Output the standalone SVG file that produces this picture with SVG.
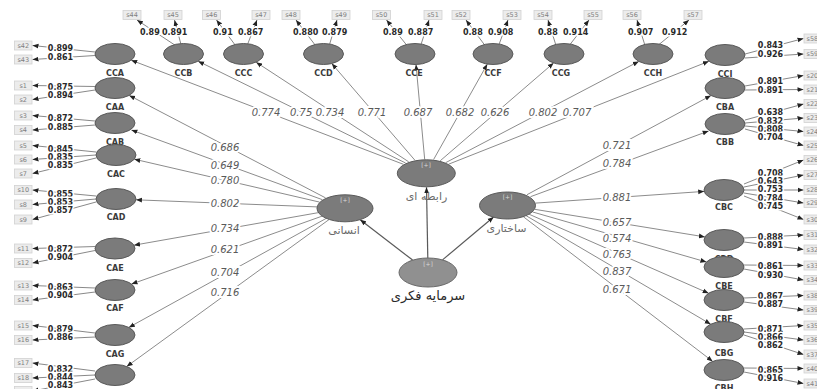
<svg xmlns="http://www.w3.org/2000/svg" width="817" height="389" viewBox="0 0 817 389">
<style>
.bg{fill:#fff}
.lv{fill:#7b7b7b;stroke:#5a5a5a;stroke-width:1}
.hv{fill:#7b7b7b;stroke:#5a5a5a;stroke-width:1}
.ic{fill:#909090;stroke:#6a6a6a;stroke-width:1}
.ln{stroke:#8c8c8c;stroke-width:1;fill:none;marker-end:url(#ah)}
.sp{stroke:#5a5a5a;stroke-width:1.2;fill:none;marker-end:url(#ah)}
.il{stroke:#6a6a6a;stroke-width:0.8;fill:none;marker-end:url(#ah)}
.bx{fill:#ececec;stroke:#d2d2d2;stroke-width:0.8}
.bt{font-family:"DejaVu Sans",sans-serif;font-size:6.5px;fill:#808080}
.btm{font-family:"DejaVu Sans",sans-serif;font-size:6.5px;fill:#808080;text-anchor:middle}
.cn{font-family:"DejaVu Sans",sans-serif;font-size:8px;font-weight:bold;fill:#3a3a3a;text-anchor:middle}
.vl{font-family:"DejaVu Sans",sans-serif;font-size:8px;font-weight:bold;fill:#2a2a2a;text-anchor:middle;paint-order:stroke;stroke:#fff;stroke-width:3px}
.vs{font-family:"DejaVu Sans",sans-serif;font-size:8px;font-weight:bold;fill:#2a2a2a;paint-order:stroke;stroke:#fff;stroke-width:3px}
.pc{font-family:"DejaVu Sans",sans-serif;font-size:10px;font-style:italic;fill:#5a5a5a;text-anchor:middle;paint-order:stroke;stroke:#fff;stroke-width:4px}
.pcs{font-family:"DejaVu Sans",sans-serif;font-size:10px;font-style:italic;fill:#5a5a5a;paint-order:stroke;stroke:#fff;stroke-width:4px}
.pl{font-family:"DejaVu Sans",sans-serif;font-size:6px;fill:#d8d8d8;text-anchor:middle}
.fa{font-family:"DejaVu Sans","Noto Sans",sans-serif;font-size:11px;fill:#6a6a6a;text-anchor:middle}
.fm{font-family:"DejaVu Sans","Noto Sans",sans-serif;font-size:13px;fill:#2a2a2a;text-anchor:middle}
</style>
<defs>
<marker id="ah" viewBox="0 0 10 10" refX="10" refY="5" markerWidth="6" markerHeight="6" markerUnits="userSpaceOnUse" orient="auto"><path d="M0,1 L10,5 L0,9 z" fill="#222"/></marker>
</defs>
<rect class="bg" x="0" y="0" width="817" height="389"/>

<g id="connectors">
<line class="sp" x1="412.6" y1="260.1" x2="360.2" y2="219.7"/>
<line class="sp" x1="427.8" y1="258" x2="426.5" y2="187.3"/>
<line class="sp" x1="442.5" y1="259.9" x2="493.6" y2="217"/>
<line class="ln" x1="325.6" y1="197.9" x2="129.2" y2="95.4"/>
<line class="ln" x1="322.4" y1="199.7" x2="131.4" y2="130"/>
<line class="ln" x1="319.6" y1="202.1" x2="134.3" y2="159.2"/>
<line class="ln" x1="317.1" y1="206.9" x2="135.9" y2="199.8"/>
<line class="ln" x1="318.6" y1="212.6" x2="134" y2="245.2"/>
<line class="ln" x1="322.2" y1="216.1" x2="131.5" y2="284.1"/>
<line class="ln" x1="326.2" y1="218.4" x2="128.8" y2="327.4"/>
<line class="ln" x1="329.1" y1="219.5" x2="126.7" y2="366.5"/>
<line class="ln" x1="403.4" y1="164.3" x2="131.2" y2="60.2"/>
<line class="ln" x1="405.6" y1="163" x2="198.1" y2="61.2"/>
<line class="ln" x1="408.7" y1="161.8" x2="256.1" y2="62.2"/>
<line class="ln" x1="414.8" y1="160.1" x2="331.8" y2="63.6"/>
<line class="ln" x1="424.7" y1="159.5" x2="416" y2="64.5"/>
<line class="ln" x1="433.6" y1="159.5" x2="487.3" y2="64.1"/>
<line class="ln" x1="440.2" y1="160.8" x2="553.6" y2="63"/>
<line class="ln" x1="445.6" y1="162.7" x2="638.8" y2="61.4"/>
<line class="ln" x1="448.6" y1="164.2" x2="708.9" y2="61.3"/>
<line class="ln" x1="527" y1="194.7" x2="711" y2="95.5"/>
<line class="ln" x1="530.5" y1="196.7" x2="708.6" y2="131"/>
<line class="ln" x1="535.7" y1="203.1" x2="704.2" y2="191.4"/>
<line class="ln" x1="534.6" y1="209.3" x2="704.9" y2="236.9"/>
<line class="ln" x1="532.4" y1="211.9" x2="706.4" y2="262"/>
<line class="ln" x1="529" y1="214.2" x2="708.7" y2="293.3"/>
<line class="ln" x1="526.1" y1="215.7" x2="710.7" y2="324.2"/>
<line class="ln" x1="523.3" y1="216.7" x2="712.7" y2="361.4"/>

<line class="il" x1="95" y1="52" x2="32.5" y2="45.5"/>
<line class="il" x1="95" y1="55.5" x2="32.5" y2="59.5"/>
<line class="il" x1="95" y1="86.5" x2="32.5" y2="85.5"/>
<line class="il" x1="95" y1="90" x2="32.5" y2="99.5"/>
<line class="il" x1="95" y1="121" x2="32.5" y2="115.5"/>
<line class="il" x1="95" y1="125" x2="32.5" y2="130"/>
<line class="il" x1="96" y1="152" x2="32.5" y2="145.5"/>
<line class="il" x1="96" y1="155" x2="32.5" y2="159.5"/>
<line class="il" x1="96" y1="158" x2="32.5" y2="173.5"/>
<line class="il" x1="96" y1="196" x2="32.5" y2="190"/>
<line class="il" x1="96" y1="199" x2="32.5" y2="204.5"/>
<line class="il" x1="96" y1="202" x2="32.5" y2="219.5"/>
<line class="il" x1="95" y1="246.5" x2="32.5" y2="248.5"/>
<line class="il" x1="95" y1="250.5" x2="32.5" y2="263"/>
<line class="il" x1="95" y1="288" x2="32.5" y2="285.5"/>
<line class="il" x1="95" y1="292" x2="32.5" y2="300"/>
<line class="il" x1="95" y1="333" x2="32.5" y2="325.5"/>
<line class="il" x1="95" y1="337" x2="32.5" y2="340"/>
<line class="il" x1="95" y1="371" x2="32.5" y2="363"/>
<line class="il" x1="95" y1="375" x2="32.5" y2="378"/>
<line class="il" x1="95" y1="379" x2="32.5" y2="391"/>
<line class="il" x1="175.5" y1="45.5" x2="137" y2="20"/>
<line class="il" x1="181" y1="44.5" x2="174.5" y2="20"/>
<line class="il" x1="235.5" y1="45.5" x2="216.5" y2="20"/>
<line class="il" x1="247.5" y1="44.5" x2="257" y2="20"/>
<line class="il" x1="315.5" y1="45.5" x2="296" y2="20"/>
<line class="il" x1="329.5" y1="44.5" x2="337" y2="20"/>
<line class="il" x1="407" y1="45.5" x2="386.5" y2="20"/>
<line class="il" x1="421" y1="44.5" x2="429" y2="20"/>
<line class="il" x1="485" y1="45.5" x2="466" y2="20"/>
<line class="il" x1="499" y1="44.5" x2="508" y2="20"/>
<line class="il" x1="556" y1="45.5" x2="548" y2="20"/>
<line class="il" x1="570" y1="44.5" x2="589" y2="20"/>
<line class="il" x1="645" y1="45.5" x2="637" y2="20"/>
<line class="il" x1="659" y1="44.5" x2="689" y2="20"/>
<line class="il" x1="745" y1="54" x2="803.5" y2="38.5"/>
<line class="il" x1="745" y1="58" x2="803.5" y2="54"/>
<line class="il" x1="745" y1="86" x2="803.5" y2="75.5"/>
<line class="il" x1="745" y1="90" x2="803.5" y2="89.5"/>
<line class="il" x1="745" y1="120" x2="803.5" y2="104"/>
<line class="il" x1="745" y1="123" x2="803.5" y2="118"/>
<line class="il" x1="745" y1="126" x2="803.5" y2="131.5"/>
<line class="il" x1="745" y1="129" x2="803.5" y2="145.5"/>
<line class="il" x1="744" y1="184" x2="803.5" y2="160"/>
<line class="il" x1="744" y1="187" x2="803.5" y2="175"/>
<line class="il" x1="744" y1="190" x2="803.5" y2="190"/>
<line class="il" x1="744" y1="193" x2="803.5" y2="203"/>
<line class="il" x1="744" y1="196" x2="803.5" y2="219.5"/>
<line class="il" x1="744" y1="238" x2="803.5" y2="235"/>
<line class="il" x1="744" y1="242" x2="803.5" y2="249.5"/>
<line class="il" x1="744" y1="265" x2="803.5" y2="265.5"/>
<line class="il" x1="744" y1="269" x2="803.5" y2="280"/>
<line class="il" x1="744" y1="298" x2="803.5" y2="295.5"/>
<line class="il" x1="744" y1="302" x2="803.5" y2="310"/>
<line class="il" x1="744" y1="329" x2="803.5" y2="325.5"/>
<line class="il" x1="744" y1="332" x2="803.5" y2="340"/>
<line class="il" x1="744" y1="335" x2="803.5" y2="354.5"/>
<line class="il" x1="744" y1="368" x2="803.5" y2="368.5"/>
<line class="il" x1="744" y1="372" x2="803.5" y2="383.5"/>

<text class="pc" x="225" y="150.5">0.686</text>
<text class="pc" x="225" y="168.5">0.649</text>
<text class="pc" x="225" y="183.5">0.780</text>
<text class="pc" x="225" y="206.5">0.802</text>
<text class="pc" x="225" y="231.5">0.734</text>
<text class="pc" x="225" y="252.5">0.621</text>
<text class="pc" x="225" y="275.5">0.704</text>
<text class="pc" x="225" y="295.5">0.716</text>
<text class="pc" x="266" y="115.5">0.774</text>
<text class="pcs" x="290" y="115.5">0.75</text>
<text class="pc" x="330" y="115.5">0.734</text>
<text class="pc" x="372" y="115.5">0.771</text>
<text class="pc" x="418" y="115.5">0.687</text>
<text class="pc" x="460" y="115.5">0.682</text>
<text class="pc" x="495" y="115.5">0.626</text>
<text class="pc" x="543" y="115.5">0.802</text>
<text class="pc" x="577" y="115.5">0.707</text>
<text class="pc" x="617" y="148.5">0.721</text>
<text class="pc" x="617" y="166.5">0.784</text>
<text class="pc" x="617" y="200.5">0.881</text>
<text class="pc" x="617" y="225.5">0.657</text>
<text class="pc" x="617" y="241.5">0.574</text>
<text class="pc" x="617" y="257.5">0.763</text>
<text class="pc" x="617" y="275">0.837</text>
<text class="pc" x="617" y="292.5">0.671</text>

<text class="vl" x="60.5" y="51">0.899</text>
<text class="vl" x="60.5" y="60">0.861</text>
<text class="vl" x="60.5" y="89.7">0.875</text>
<text class="vl" x="60.5" y="97.7">0.894</text>
<text class="vl" x="60.5" y="121">0.872</text>
<text class="vl" x="60.5" y="129.7">0.885</text>
<text class="vl" x="60.5" y="152">0.845</text>
<text class="vl" x="60.5" y="160">0.835</text>
<text class="vl" x="60.5" y="168">0.835</text>
<text class="vl" x="60.5" y="196.7">0.855</text>
<text class="vl" x="60.5" y="204.7">0.853</text>
<text class="vl" x="60.5" y="212.7">0.857</text>
<text class="vl" x="60.5" y="251.7">0.872</text>
<text class="vl" x="60.5" y="259.7">0.904</text>
<text class="vl" x="60.5" y="289.5">0.863</text>
<text class="vl" x="60.5" y="297.7">0.904</text>
<text class="vl" x="60.5" y="332">0.879</text>
<text class="vl" x="60.5" y="340.2">0.886</text>
<text class="vl" x="60.5" y="371.7">0.832</text>
<text class="vl" x="60.5" y="380">0.844</text>
<text class="vl" x="60.5" y="388.3">0.843</text>
<text class="vs" x="140" y="35">0.89</text>
<text class="vs" x="162" y="35">0.891</text>
<text class="vs" x="213" y="35">0.91</text>
<text class="vs" x="238" y="35">0.867</text>
<text class="vs" x="293" y="35">0.880</text>
<text class="vs" x="322" y="35">0.879</text>
<text class="vs" x="383" y="35">0.89</text>
<text class="vs" x="408" y="35">0.887</text>
<text class="vs" x="463" y="35">0.88</text>
<text class="vs" x="488" y="35">0.908</text>
<text class="vs" x="538" y="35">0.88</text>
<text class="vs" x="563" y="35">0.914</text>
<text class="vs" x="628" y="35">0.907</text>
<text class="vs" x="662" y="35">0.912</text>
<text class="vl" x="770.5" y="48.3">0.843</text>
<text class="vl" x="770.5" y="56.5">0.926</text>
<text class="vl" x="770.5" y="84.3">0.891</text>
<text class="vl" x="770.5" y="92.5">0.891</text>
<text class="vl" x="770.5" y="115.3">0.638</text>
<text class="vl" x="770.5" y="123.5">0.832</text>
<text class="vl" x="770.5" y="131.7">0.808</text>
<text class="vl" x="770.5" y="139.9">0.704</text>
<text class="vl" x="770.5" y="176">0.708</text>
<text class="vl" x="770.5" y="184.2">0.643</text>
<text class="vl" x="770.5" y="192.4">0.753</text>
<text class="vl" x="770.5" y="200.6">0.784</text>
<text class="vl" x="770.5" y="208.8">0.745</text>
<text class="vl" x="770.5" y="239.5">0.888</text>
<text class="vl" x="770.5" y="247.7">0.891</text>
<text class="vl" x="770.5" y="269.3">0.861</text>
<text class="vl" x="770.5" y="278.3">0.930</text>
<text class="vl" x="770.5" y="299">0.867</text>
<text class="vl" x="770.5" y="307.2">0.887</text>
<text class="vl" x="770.5" y="331.8">0.871</text>
<text class="vl" x="770.5" y="340">0.866</text>
<text class="vl" x="770.5" y="348.2">0.862</text>
<text class="vl" x="770.5" y="372.7">0.865</text>
<text class="vl" x="770.5" y="381.3">0.916</text>
</g>

<g id="IC"><ellipse class="ic" cx="428" cy="272.5" rx="29" ry="14.5"/><text class="pl" x="428" y="266">[+]</text><text class="fm" x="428" y="300">سرمایه فکری</text></g>
<g id="Human"><ellipse class="hv" cx="345" cy="208.3" rx="28" ry="13.5"/><text class="pl" x="345" y="202">[+]</text><text class="fa" x="344" y="234">انسانی</text></g>
<g id="Relational"><ellipse class="hv" cx="426.3" cy="173.3" rx="29" ry="13.5"/><text class="pl" x="426" y="167">[+]</text><text class="fa" x="426.5" y="200">رابطه ای</text></g>
<g id="Structural"><ellipse class="hv" cx="507.5" cy="205.5" rx="28" ry="13.5"/><text class="pl" x="507.5" y="199">[+]</text><text class="fa" x="506.5" y="232">ساختاری</text></g>

<g id="CCA"><ellipse class="lv" cx="115" cy="54" rx="20" ry="10.5"/><text class="cn" x="115" y="76">CCA</text></g>
<g id="CAA"><ellipse class="lv" cx="115" cy="88" rx="20" ry="10.5"/><text class="cn" x="115" y="110">CAA</text></g>
<g id="CAB"><ellipse class="lv" cx="115" cy="123" rx="20" ry="10.5"/><text class="cn" x="115" y="145">CAB</text></g>
<g id="CAC"><ellipse class="lv" cx="116" cy="155" rx="20" ry="10.5"/><text class="cn" x="116" y="177">CAC</text></g>
<g id="CAD"><ellipse class="lv" cx="116" cy="199" rx="20" ry="10.5"/><text class="cn" x="116" y="220">CAD</text></g>
<g id="CAE"><ellipse class="lv" cx="115" cy="248.5" rx="20" ry="10.5"/><text class="cn" x="115" y="271">CAE</text></g>
<g id="CAF"><ellipse class="lv" cx="115" cy="290" rx="20" ry="10.5"/><text class="cn" x="115" y="311">CAF</text></g>
<g id="CAG"><ellipse class="lv" cx="115" cy="335" rx="20" ry="10.5"/><text class="cn" x="115" y="357">CAG</text></g>
<g id="CAH"><ellipse class="lv" cx="115" cy="375" rx="20" ry="10.5"/></g>
<g id="CCB"><ellipse class="lv" cx="183.5" cy="54" rx="20" ry="10.5"/><text class="cn" x="183.5" y="76">CCB</text></g>
<g id="CCC"><ellipse class="lv" cx="243.5" cy="54" rx="20" ry="10.5"/><text class="cn" x="243.5" y="76">CCC</text></g>
<g id="CCD"><ellipse class="lv" cx="323.5" cy="54" rx="20" ry="10.5"/><text class="cn" x="323.5" y="76">CCD</text></g>
<g id="CCE"><ellipse class="lv" cx="415" cy="54" rx="20" ry="10.5"/><text class="cn" x="414" y="76">CCE</text></g>
<g id="CCF"><ellipse class="lv" cx="493" cy="54" rx="20" ry="10.5"/><text class="cn" x="493" y="76">CCF</text></g>
<g id="CCG"><ellipse class="lv" cx="564" cy="54" rx="20" ry="10.5"/><text class="cn" x="561" y="76">CCG</text></g>
<g id="CCH"><ellipse class="lv" cx="653" cy="54" rx="20" ry="10.5"/><text class="cn" x="653" y="76">CCH</text></g>
<g id="CCI"><ellipse class="lv" cx="725" cy="55" rx="20" ry="10.5"/><text class="cn" x="725" y="77">CCI</text></g>
<g id="CBA"><ellipse class="lv" cx="725" cy="88" rx="20" ry="10.5"/><text class="cn" x="725" y="110">CBA</text></g>
<g id="CBB"><ellipse class="lv" cx="725" cy="124" rx="20" ry="10.5"/><text class="cn" x="725" y="145">CBB</text></g>
<g id="CBC"><ellipse class="lv" cx="724" cy="190" rx="20" ry="10.5"/><text class="cn" x="724" y="210">CBC</text></g>
<g id="CBD"><ellipse class="lv" cx="724" cy="240" rx="20" ry="10.5"/><text class="cn" x="724" y="262">CBD</text></g>
<g id="CBE"><ellipse class="lv" cx="724" cy="267" rx="20" ry="10.5"/><text class="cn" x="724" y="289">CBE</text></g>
<g id="CBF"><ellipse class="lv" cx="724" cy="300" rx="20" ry="10.5"/><text class="cn" x="724" y="322">CBF</text></g>
<g id="CBG"><ellipse class="lv" cx="724" cy="332" rx="20" ry="10.5"/><text class="cn" x="724" y="356">CBG</text></g>
<g id="CBH"><ellipse class="lv" cx="724" cy="370" rx="20" ry="10.5"/><text class="cn" x="724" y="391">CBH</text></g>

<g id="s42"><rect class="bx" x="14.5" y="41" width="17.5" height="9"/><text class="btm" x="23.25" y="47.7">s42</text></g>
<g id="s43"><rect class="bx" x="14.5" y="55" width="17.5" height="9"/><text class="btm" x="23.25" y="61.7">s43</text></g>
<g id="s1"><rect class="bx" x="14.5" y="81" width="17.5" height="9"/><text class="btm" x="23.25" y="87.7">s1</text></g>
<g id="s2"><rect class="bx" x="14.5" y="95" width="17.5" height="9"/><text class="btm" x="23.25" y="101.7">s2</text></g>
<g id="s3"><rect class="bx" x="14.5" y="111" width="17.5" height="9"/><text class="btm" x="23.25" y="117.7">s3</text></g>
<g id="s4"><rect class="bx" x="14.5" y="125.5" width="17.5" height="9"/><text class="btm" x="23.25" y="132.2">s4</text></g>
<g id="s5"><rect class="bx" x="14.5" y="141" width="17.5" height="9"/><text class="btm" x="23.25" y="147.7">s5</text></g>
<g id="s6"><rect class="bx" x="14.5" y="155" width="17.5" height="9"/><text class="btm" x="23.25" y="161.7">s6</text></g>
<g id="s7"><rect class="bx" x="14.5" y="169" width="17.5" height="9"/><text class="btm" x="23.25" y="175.7">s7</text></g>
<g id="s10"><rect class="bx" x="14.5" y="185.5" width="17.5" height="9"/><text class="btm" x="23.25" y="192.2">s10</text></g>
<g id="s8"><rect class="bx" x="14.5" y="200" width="17.5" height="9"/><text class="btm" x="23.25" y="206.7">s8</text></g>
<g id="s9"><rect class="bx" x="14.5" y="215" width="17.5" height="9"/><text class="btm" x="23.25" y="221.7">s9</text></g>
<g id="s11"><rect class="bx" x="14.5" y="244" width="17.5" height="9"/><text class="btm" x="23.25" y="250.7">s11</text></g>
<g id="s12"><rect class="bx" x="14.5" y="258.5" width="17.5" height="9"/><text class="btm" x="23.25" y="265.2">s12</text></g>
<g id="s13"><rect class="bx" x="14.5" y="281" width="17.5" height="9"/><text class="btm" x="23.25" y="287.7">s13</text></g>
<g id="s14"><rect class="bx" x="14.5" y="295.5" width="17.5" height="9"/><text class="btm" x="23.25" y="302.2">s14</text></g>
<g id="s15"><rect class="bx" x="14.5" y="321" width="17.5" height="9"/><text class="btm" x="23.25" y="327.7">s15</text></g>
<g id="s16"><rect class="bx" x="14.5" y="335.5" width="17.5" height="9"/><text class="btm" x="23.25" y="342.2">s16</text></g>
<g id="s17"><rect class="bx" x="14.5" y="358.5" width="17.5" height="9"/><text class="btm" x="23.25" y="365.2">s17</text></g>
<g id="s18"><rect class="bx" x="14.5" y="373.5" width="17.5" height="9"/><text class="btm" x="23.25" y="380.2">s18</text></g>
<g id="s19"><rect class="bx" x="14.5" y="386.5" width="17.5" height="9"/></g>

<g id="s44"><rect class="bx" x="123" y="10.5" width="18" height="9"/><text class="btm" x="132" y="17.2">s44</text></g>
<g id="s45"><rect class="bx" x="164" y="10.5" width="18" height="9"/><text class="btm" x="173" y="17.2">s45</text></g>
<g id="s46"><rect class="bx" x="202.5" y="10.5" width="18" height="9"/><text class="btm" x="211.5" y="17.2">s46</text></g>
<g id="s47"><rect class="bx" x="252" y="10.5" width="18" height="9"/><text class="btm" x="261" y="17.2">s47</text></g>
<g id="s48"><rect class="bx" x="282" y="10.5" width="18" height="9"/><text class="btm" x="291" y="17.2">s48</text></g>
<g id="s49"><rect class="bx" x="332" y="10.5" width="18" height="9"/><text class="btm" x="341" y="17.2">s49</text></g>
<g id="s50"><rect class="bx" x="372.5" y="10.5" width="18" height="9"/><text class="btm" x="381.5" y="17.2">s50</text></g>
<g id="s51"><rect class="bx" x="424" y="10.5" width="18" height="9"/><text class="btm" x="433" y="17.2">s51</text></g>
<g id="s52"><rect class="bx" x="452" y="10.5" width="18" height="9"/><text class="btm" x="461" y="17.2">s52</text></g>
<g id="s53"><rect class="bx" x="503" y="10.5" width="18" height="9"/><text class="btm" x="512" y="17.2">s53</text></g>
<g id="s54"><rect class="bx" x="534" y="10.5" width="18" height="9"/><text class="btm" x="543" y="17.2">s54</text></g>
<g id="s55"><rect class="bx" x="584" y="10.5" width="18" height="9"/><text class="btm" x="593" y="17.2">s55</text></g>
<g id="s56"><rect class="bx" x="623" y="10.5" width="18" height="9"/><text class="btm" x="632" y="17.2">s56</text></g>
<g id="s57"><rect class="bx" x="684" y="10.5" width="18" height="9"/><text class="btm" x="693" y="17.2">s57</text></g>

<g id="s58"><rect class="bx" x="804" y="34" width="18" height="9"/><text class="bt" x="806.5" y="40.7">s58</text></g>
<g id="s59"><rect class="bx" x="804" y="49.5" width="18" height="9"/><text class="bt" x="806.5" y="56.2">s59</text></g>
<g id="s20"><rect class="bx" x="804" y="71" width="18" height="9"/><text class="bt" x="806.5" y="77.7">s20</text></g>
<g id="s21"><rect class="bx" x="804" y="85" width="18" height="9"/><text class="bt" x="806.5" y="91.7">s21</text></g>
<g id="s22"><rect class="bx" x="804" y="99.5" width="18" height="9"/><text class="bt" x="806.5" y="106.2">s22</text></g>
<g id="s23"><rect class="bx" x="804" y="113.5" width="18" height="9"/><text class="bt" x="806.5" y="120.2">s23</text></g>
<g id="s24"><rect class="bx" x="804" y="127" width="18" height="9"/><text class="bt" x="806.5" y="133.7">s24</text></g>
<g id="s25"><rect class="bx" x="804" y="141" width="18" height="9"/><text class="bt" x="806.5" y="147.7">s25</text></g>
<g id="s26"><rect class="bx" x="804" y="155.5" width="18" height="9"/><text class="bt" x="806.5" y="162.2">s26</text></g>
<g id="s27"><rect class="bx" x="804" y="170.5" width="18" height="9"/><text class="bt" x="806.5" y="177.2">s27</text></g>
<g id="s28"><rect class="bx" x="804" y="185.5" width="18" height="9"/><text class="bt" x="806.5" y="192.2">s28</text></g>
<g id="s29"><rect class="bx" x="804" y="198.5" width="18" height="9"/><text class="bt" x="806.5" y="205.2">s29</text></g>
<g id="s30"><rect class="bx" x="804" y="215" width="18" height="9"/><text class="bt" x="806.5" y="221.7">s30</text></g>
<g id="s31"><rect class="bx" x="804" y="230.5" width="18" height="9"/><text class="bt" x="806.5" y="237.2">s31</text></g>
<g id="s32"><rect class="bx" x="804" y="245" width="18" height="9"/><text class="bt" x="806.5" y="251.7">s32</text></g>
<g id="s33"><rect class="bx" x="804" y="261" width="18" height="9"/><text class="bt" x="806.5" y="267.7">s33</text></g>
<g id="s34"><rect class="bx" x="804" y="275.5" width="18" height="9"/><text class="bt" x="806.5" y="282.2">s34</text></g>
<g id="s38"><rect class="bx" x="804" y="291" width="18" height="9"/><text class="bt" x="806.5" y="297.7">s38</text></g>
<g id="s39"><rect class="bx" x="804" y="305.5" width="18" height="9"/><text class="bt" x="806.5" y="312.2">s39</text></g>
<g id="s35"><rect class="bx" x="804" y="321" width="18" height="9"/><text class="bt" x="806.5" y="327.7">s35</text></g>
<g id="s36"><rect class="bx" x="804" y="335.5" width="18" height="9"/><text class="bt" x="806.5" y="342.2">s36</text></g>
<g id="s37"><rect class="bx" x="804" y="350" width="18" height="9"/><text class="bt" x="806.5" y="356.7">s37</text></g>
<g id="s40"><rect class="bx" x="804" y="364" width="18" height="9"/><text class="bt" x="806.5" y="370.7">s40</text></g>
<g id="s41"><rect class="bx" x="804" y="379" width="18" height="9"/><text class="bt" x="806.5" y="385.7">s41</text></g>
</svg>
